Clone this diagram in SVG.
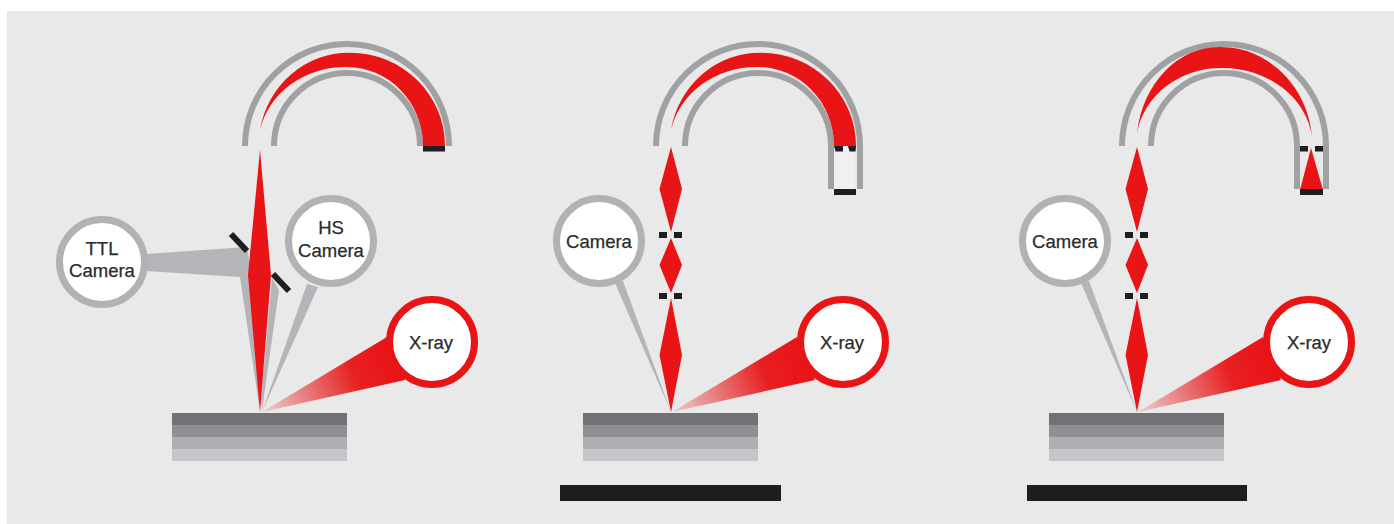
<svg xmlns="http://www.w3.org/2000/svg" width="1394" height="524" viewBox="0 0 1394 524">
<style>
.tube{fill:none;stroke:#a0a1a3;stroke-width:6}
.red{fill:#e81416}
.blk{fill:#1e1e20}
.ring{fill:#fff;stroke:#b1b2b4;stroke-width:7}
.ringr{fill:#fff;stroke:#e81416;stroke-width:7}
.tail{fill:#b4b5b8}
.lbl{font:18.5px "Liberation Sans",Arial,sans-serif;fill:#2a2a2c;stroke:#2a2a2c;stroke-width:.25;text-anchor:middle}
</style>
<defs>
<linearGradient id="xg" gradientUnits="userSpaceOnUse" x1="262" y1="412" x2="395" y2="358">
<stop offset="0" stop-color="#e81416" stop-opacity=".12"/>
<stop offset=".7" stop-color="#e81416" stop-opacity=".95"/>
<stop offset="1" stop-color="#e81416"/>
</linearGradient>
<g id="sample">
<rect x="172" y="413" width="175" height="12" fill="#707275"/>
<rect x="172" y="425" width="175" height="12" fill="#8e9093"/>
<rect x="172" y="437" width="175" height="12" fill="#aeafb3"/>
<rect x="172" y="449" width="175" height="12" fill="#c5c6ca"/>
</g>
<g id="xtail"><path d="M387 337 L262 412 L405 380 Z" fill="url(#xg)"/></g>
<path id="beam" class="red" d="M671 298 L682 355 L671 412 L659.500 355 Z M671 238 L682 265 L671 293 L659.500 265 Z M671 147 L682 189 L671 232 L659.500 189 Z"/>
<path id="aps" class="blk" d="M659 232h8v6h-8z M674 232h8v6h-8z M659 293h8v6h-8z M674 293h8v6h-8z"/>
</defs>
<rect width="1394" height="524" fill="#fff"/>
<rect x="7" y="11" width="1387" height="513" fill="#e9e9e9"/>

<g id="connectors">
<g id="beams-1">
<path class="tail" d="M146 254 L247 247 L252 278 L260 412 L240 277 L146 271 Z"/>
<path class="tail" d="M272 278 L279 290 L262 410 L261 400 Z"/>
<path class="tail" d="M307 284 L318 287 L262 412 Z"/>
<path d="M231 234 L247 251 M273 274 L289 291" stroke="#1e1e20" stroke-width="6" fill="none"/>
<path class="red" d="M260 150 L271 275 L260 412 L248 275 Z"/>
<use href="#xtail"/>
</g>
<g id="beams-2">
<path class="tail" d="M615 283 L623 281 L671 412 Z"/>
<use href="#beam"/><use href="#aps"/>
<use href="#xtail" x="410"/>
</g>
<g id="beams-3">
<path class="tail" d="M1081 283 L1089 281 L1137 412 Z"/>
<use href="#beam" x="466"/><use href="#aps" x="466"/>
<use href="#xtail" x="876"/>
</g>
</g>

<g id="column-1">
<path class="tube" d="M245 146 A102 102 0 0 1 449 146"/>
<path class="tube" d="M274 146 A73 73 0 0 1 420 146"/>
<path class="red" d="M445 146 A95 93.300 0 0 0 350 52.700 A90.500 93.300 0 0 0 260 130 A87 79 0 0 1 347 67 A76 79 0 0 1 423 146 Z"/>
<rect class="blk" x="423" y="146" width="22" height="5.500"/>
</g>
<g id="column-2">
<path class="tube" d="M656 146 A102 102 0 0 1 860 146 V189"/>
<path class="tube" d="M685 146 A73 73 0 0 1 831 146 V189"/>
<rect x="834" y="146" width="21" height="43" fill="#f0f0f0"/>
<path class="red" d="M856 146 A95 93.300 0 0 0 761 52.700 A90.500 93.300 0 0 0 671 130 A87 79 0 0 1 758 67 A76 79 0 0 1 834 146 Z"/>
<path class="blk" d="M834 146h9v5.500h-7.500z M848 146h8l-.5 5.500h-6z"/>
<rect class="blk" x="834" y="189" width="22" height="6"/>
</g>
<g id="column-3">
<path class="tube" d="M1122 146 A102 102 0 0 1 1326 146 V189"/>
<path class="tube" d="M1151 146 A73 73 0 0 1 1297 146 V189"/>
<path class="red" d="M1137 133 A83 99 0 0 1 1220 47 A92 99 0 0 1 1312 137 A90 78 0 0 0 1222 68 A85 78 0 0 0 1137 133 Z"/>
<path class="red" d="M1311 148 L1323 190 L1300 190 Z"/>
<path class="blk" d="M1300 146h8v5.500h-8z M1315 146h8v5.500h-8z"/>
<rect class="blk" x="1300" y="189" width="23" height="6"/>
</g>

<g id="sample-1"><use href="#sample"/></g>
<g id="sample-2"><use href="#sample" x="411"/><rect class="blk" x="560" y="485" width="221" height="16"/></g>
<g id="sample-3"><use href="#sample" x="877"/><rect class="blk" x="1027" y="485" width="220" height="16"/></g>

<g id="ttl-camera"><circle class="ring" cx="102" cy="262" r="42.500"/><text class="lbl" x="102" y="255">TTL</text><text class="lbl" x="102" y="277">Camera</text></g>
<g id="hs-camera"><circle class="ring" cx="331" cy="241" r="42.500"/><text class="lbl" x="331" y="234">HS</text><text class="lbl" x="331" y="257">Camera</text></g>
<g id="xray-1"><circle class="ringr" cx="432" cy="342" r="42.500"/><text class="lbl" x="431" y="349">X-ray</text></g>
<g id="camera-2"><circle class="ring" cx="599" cy="241" r="42.500"/><text class="lbl" x="599" y="248">Camera</text></g>
<g id="xray-2"><circle class="ringr" cx="843" cy="342" r="42.500"/><text class="lbl" x="842" y="349">X-ray</text></g>
<g id="camera-3"><circle class="ring" cx="1065" cy="241" r="42.500"/><text class="lbl" x="1065" y="248">Camera</text></g>
<g id="xray-3"><circle class="ringr" cx="1309" cy="342" r="42.500"/><text class="lbl" x="1309" y="349">X-ray</text></g>
</svg>
